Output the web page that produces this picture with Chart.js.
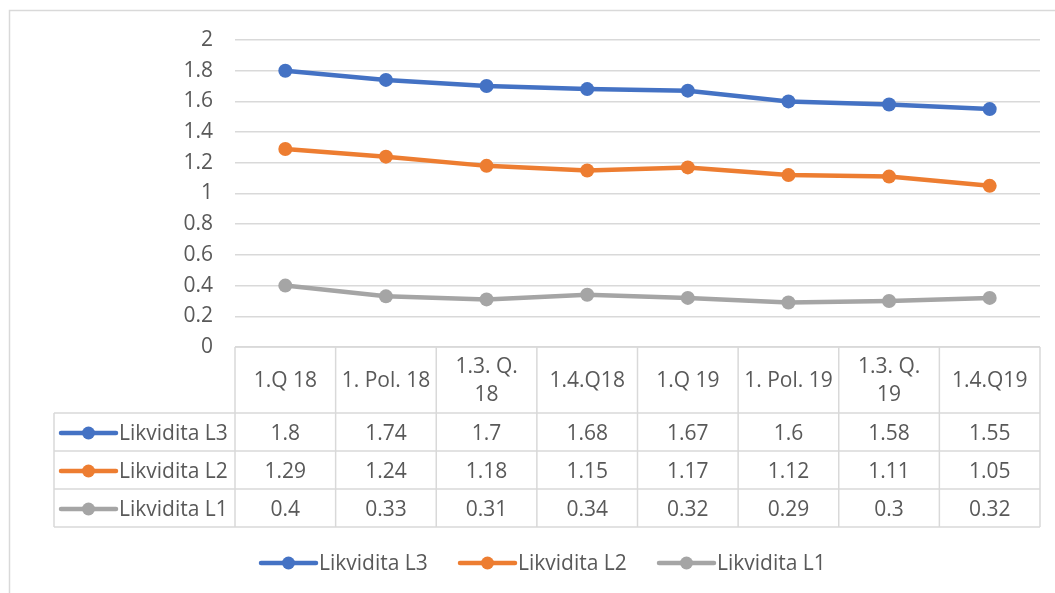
<!DOCTYPE html>
<html>
<head>
<meta charset="utf-8">
<script src="https://cdn.jsdelivr.net/npm/chart.js@4/dist/chart.umd.min.js"></script>
<style>
  body { margin: 0; background: #fff; }
  #wrap { width: 1055px; height: 593px; }
</style>
</head>
<body>
<div id="wrap"><canvas id="myChart" width="1055" height="593"></canvas></div>
<script>
var labels = ['1.Q 18', '1. Pol. 18', '1.3. Q.\n18', '1.4.Q18', '1.Q 19', '1. Pol. 19', '1.3. Q.\n19', '1.4.Q19'];
var seriesNames = ['Likvidita L3', 'Likvidita L2', 'Likvidita L1'];
var l3 = [1.8, 1.74, 1.7, 1.68, 1.67, 1.6, 1.58, 1.55];
var l2 = [1.29, 1.24, 1.18, 1.15, 1.17, 1.12, 1.11, 1.05];
var l1 = [0.4, 0.33, 0.31, 0.34, 0.32, 0.29, 0.3, 0.32];
var colors = ['#4472c4', '#ed7d31', '#a5a5a5'];

var font = '"Open Sans", "Liberation Sans", sans-serif';
var fontSize = 21;
var textColor = '#595959';
var gridColor = '#d9d9d9';

// data table under the plot + bottom legend, drawn from the scales
var tablePlugin = {
    id: 'dataTable',
    afterDraw: function (chart) {
        var c = chart.ctx;
        var x = chart.scales.x;
        var area = chart.chartArea;
        var n = labels.length;
        var colW = (area.right - area.left) / n;
        var rowTop = [area.bottom, 413, 451, 489, 527];
        var leftX = 54;

        c.save();
        // outer chart border
        c.strokeStyle = '#d9d9d9';
        c.lineWidth = 1.5;
        c.strokeRect(9.5, 10.5, 1060, 600);

        c.strokeStyle = gridColor;
        c.lineWidth = 1.5;
        // vertical lines
        for (var i = 0; i <= n; i++) {
            var vx = area.left + i * colW;
            c.beginPath();
            c.moveTo(vx, rowTop[0]);
            c.lineTo(vx, rowTop[4]);
            c.stroke();
        }
        c.beginPath();
        c.moveTo(leftX, rowTop[1]);
        c.lineTo(leftX, rowTop[4]);
        c.stroke();
        // horizontal lines
        c.beginPath();
        c.moveTo(area.left, rowTop[0]);
        c.lineTo(area.right, rowTop[0]);
        c.stroke();
        for (var r = 1; r <= 4; r++) {
            c.beginPath();
            c.moveTo(leftX, rowTop[r]);
            c.lineTo(area.right, rowTop[r]);
            c.stroke();
        }

        c.fillStyle = textColor;
        c.font = fontSize + 'px ' + font;
        c.textAlign = 'center';
        c.textBaseline = 'middle';
        // header
        labels.forEach(function (lab, i) {
            var cx = x.getPixelForValue(i);
            var lines = lab.split('\n');
            var mid = (rowTop[0] + rowTop[1]) / 2 + 1;
            lines.forEach(function (ln, k) {
                c.fillText(ln, cx, mid + (k - (lines.length - 1) / 2) * 28);
            });
        });
        // rows
        chart.data.datasets.forEach(function (ds, r) {
            var cy = (rowTop[r + 1] + rowTop[r + 2]) / 2 + 2;
            ds.data.forEach(function (v, i) {
                c.fillText(String(v), x.getPixelForValue(i), cy);
            });
            drawKey(c, 61, cy - 1, ds.borderColor);
            c.textAlign = 'left';
            c.fillText(ds.label, 119, cy);
            c.textAlign = 'center';
        });

        // legend at the bottom
        var lx = [261, 460, 659];
        chart.data.datasets.forEach(function (ds, r) {
            var cy = 564;
            drawKey(c, lx[r], cy - 1, ds.borderColor);
            c.textAlign = 'left';
            c.fillText(ds.label, lx[r] + 58, cy);
        });
        c.restore();
    }
};

function drawKey(c, x0, cy, col) {
    c.save();
    c.strokeStyle = col;
    c.fillStyle = col;
    c.lineWidth = 4.5;
    c.lineCap = 'round';
    c.beginPath();
    c.moveTo(x0, cy);
    c.lineTo(x0 + 55, cy);
    c.stroke();
    c.beginPath();
    c.arc(x0 + 27.5, cy, 6.5, 0, Math.PI * 2);
    c.fill();
    c.restore();
}

var ctx = document.getElementById('myChart').getContext('2d');
var myChart = new Chart(ctx, {
    type: 'line',
    data: {
        labels: labels,
        datasets: [l3, l2, l1].map(function (d, i) {
            return {
                label: seriesNames[i],
                data: d,
                borderColor: colors[i],
                backgroundColor: colors[i],
                borderWidth: 4.5,
                pointRadius: 7,
                pointHoverRadius: 7,
                pointBorderWidth: 0,
                tension: 0
            };
        })
    },
    options: {
        responsive: false,
        animation: false,
        layout: { padding: { left: 0, right: 15, top: 40, bottom: 246 } },
        plugins: {
            legend: { display: false },
            tooltip: { enabled: false }
        },
        scales: {
            x: {
                display: false,
                offset: true
            },
            y: {
                min: 0,
                max: 2,
                afterFit: function (s) { s.width = 235; },
                ticks: {
                    stepSize: 0.2,
                    color: textColor,
                    font: { family: font, size: fontSize },
                    padding: 22,
                    callback: function (v) { return Math.round(v * 10) / 10; }
                },
                grid: { color: gridColor, lineWidth: 1.5, drawTicks: false },
                border: { display: false }
            }
        }
    },
    plugins: [tablePlugin]
});
</script>
</body>
</html>
